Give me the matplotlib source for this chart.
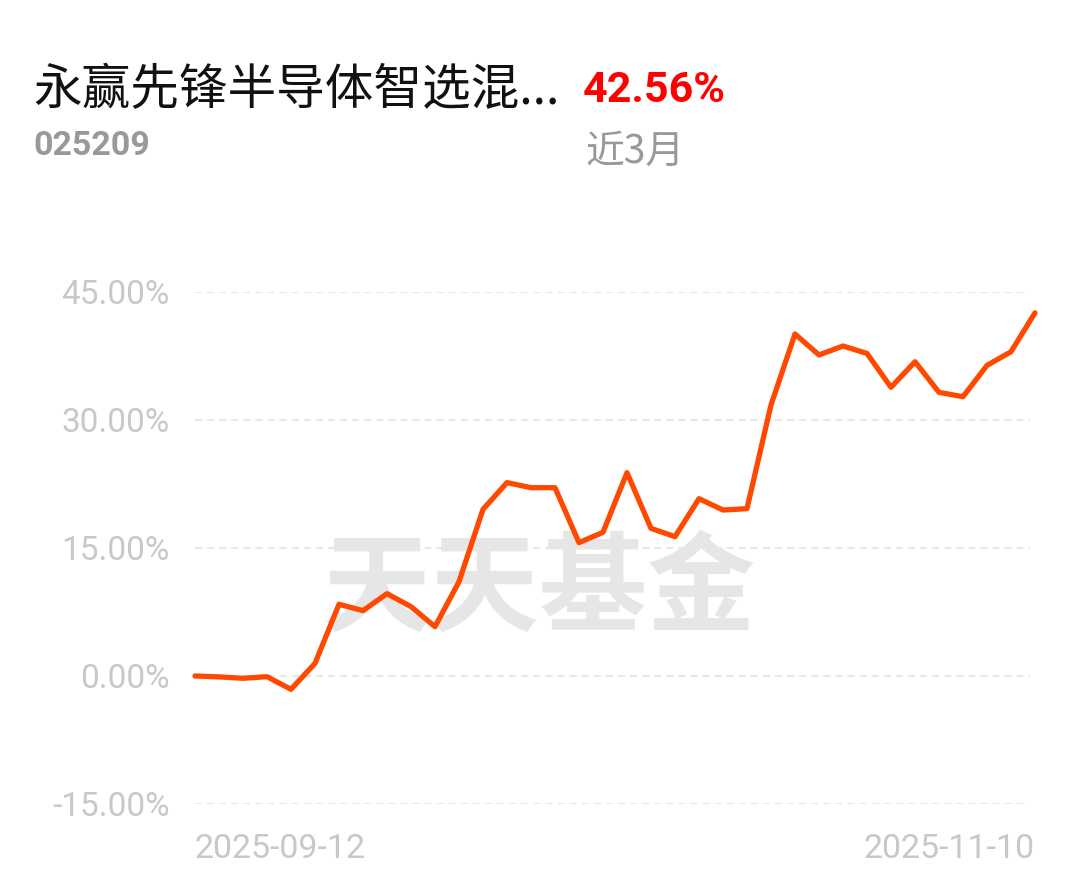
import matplotlib
matplotlib.use("Agg")
import matplotlib.pyplot as plt

fund_name = "永赢先锋半导体智选混..."
fund_code = "025209"
period_return = "42.56%"
period_label = "近3月"
date_start = "2025-09-12"
date_end = "2025-11-10"
yticks = [-15, 0, 15, 30, 45]
ytick_labels = ["-15.00%", "0.00%", "15.00%", "30.00%", "45.00%"]
values = [0.0, -0.1, -0.27, -0.08, -1.56, 1.48, 8.4, 7.66, 9.65, 8.13, 5.78, 11.05,
          19.53, 22.66, 22.07, 22.07, 15.63, 16.84, 23.83, 17.3, 16.33, 20.78, 19.45,
          19.61, 31.76, 40.08, 37.62, 38.67, 37.8, 33.83, 36.83, 33.24, 32.73, 36.4,
          38.0, 42.56]

W, H = 1080, 881
fig = plt.figure(figsize=(W / 100, H / 100), dpi=100)
fig.patch.set_facecolor("white")

ax = fig.add_axes([195 / W, (H - 804) / H, (1035 - 195) / W, (804 - 292) / H])
ax.set_facecolor("none")
x = list(range(len(values)))
ax.set_xlim(0, len(values) - 1)
ax.set_ylim(-15, 45)

for t in yticks:
    ax.axhline(t, xmin=0, xmax=0.994, color="#e8e8e8", lw=1.5,
               linestyle=(0, (3.4, 2.4)), zorder=1)

# watermark (behind the line)
ax.text(540 / W, 1 - 592 / H, "天天基金", fontsize=78, color="#e6e6e6",
        fontweight="bold", family=["Noto Sans CJK SC"], ha="center", va="center",
        transform=fig.transFigure, zorder=0)

ax.plot(x, values, color="#ff4800", lw=3.8, solid_joinstyle="round",
        solid_capstyle="round", clip_on=False, zorder=3)

for s in ax.spines.values():
    s.set_visible(False)
ax.set_xticks([])
ax.set_yticks(yticks)
ax.set_yticklabels(ytick_labels, family=["Roboto", "DejaVu Sans"], fontsize=24,
                   color="#c8c8c8")
ax.tick_params(axis="y", length=0, pad=18)

ax.text(0, -0.088, date_start, transform=ax.get_xaxis_transform(), ha="left",
        va="center", fontsize=24.5, color="#c8c8c8", family=["Roboto", "DejaVu Sans"])
ax.text(len(values) - 1, -0.088, date_end, transform=ax.get_xaxis_transform(),
        ha="right", va="center", fontsize=24.5, color="#c8c8c8",
        family=["Roboto", "DejaVu Sans"])

fig.text(33 / W, 1 - 90 / H, fund_name, fontsize=35, color="#111111",
         family=["Noto Sans CJK SC", "DejaVu Sans"], ha="left", va="center")
fig.text(583 / W, 1 - 90 / H, period_return, fontsize=31, color="#ff0000",
         fontweight="bold", family=["Roboto", "DejaVu Sans"], ha="left", va="center")
fig.text(33 / W, 1 - 146 / H, fund_code, fontsize=24.5, color="#999999",
         fontweight="bold", family=["Roboto", "DejaVu Sans"], ha="left", va="center")
fig.text(585 / W, 1 - 152 / H, period_label, fontsize=28, color="#999999",
         family=["Noto Sans CJK SC", "DejaVu Sans"], ha="left", va="center")

fig.savefig("out.png", dpi=100, facecolor="white")
